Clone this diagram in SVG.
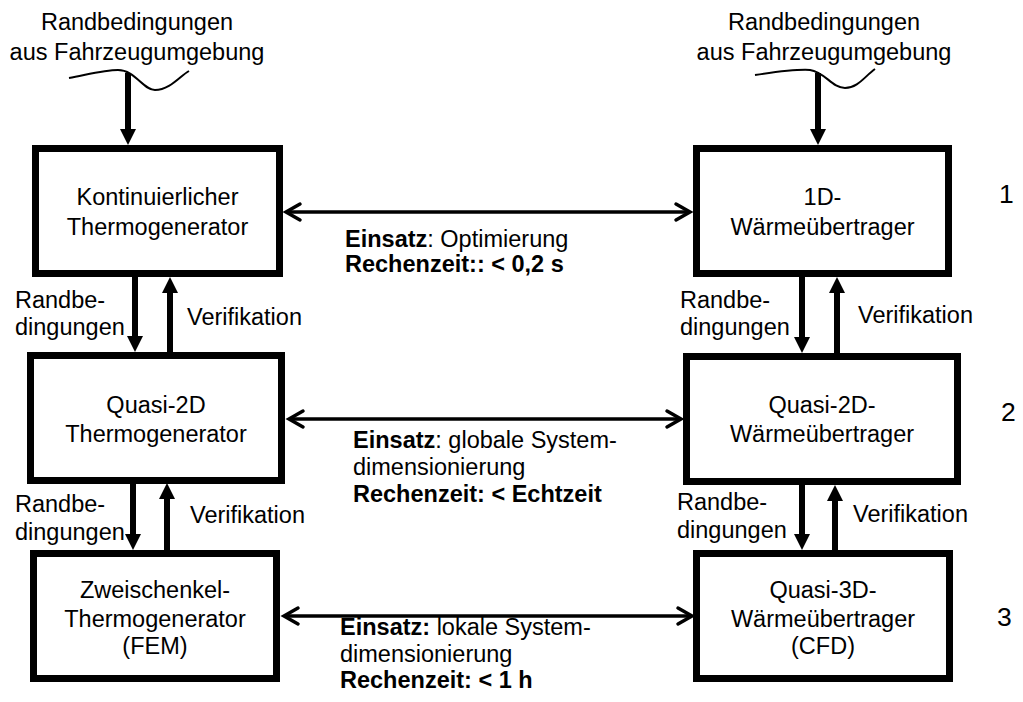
<svg xmlns="http://www.w3.org/2000/svg" width="1023" height="702" viewBox="0 0 1023 702">
  <style>
    text { font-family: "Liberation Sans", Arial, sans-serif; font-size: 23.5px; fill: #000; }
    .c { text-anchor: middle; }
    .b { font-weight: bold; }
    .n { font-size: 26.5px; }
    .box { fill: #fff; stroke: #000; stroke-width: 7; }
    .v { stroke: #000; stroke-width: 6; fill: none; }
    .h { stroke: #000; stroke-width: 3.5; fill: none; }
    .wave { stroke: #000; stroke-width: 2; fill: none; }
  </style>
  <defs>
    <marker id="fill" markerUnits="userSpaceOnUse" markerWidth="20" markerHeight="20" viewBox="0 -10 20 20" refX="0" refY="0" orient="auto" overflow="visible">
      <path d="M0,-8 L16,0 L0,8 Z" fill="#000"/>
    </marker>
    <marker id="open" markerUnits="userSpaceOnUse" markerWidth="20" markerHeight="20" viewBox="-18 -10 20 20" refX="0" refY="0" orient="auto-start-reverse" overflow="visible">
      <path d="M-14,-8 L0,0 L-14,8" fill="none" stroke="#000" stroke-width="3.5" stroke-linecap="round" stroke-linejoin="miter"/>
    </marker>
  </defs>

  <!-- top inputs -->
  <g id="input-left">
    <text class="c" x="137" y="30">Randbedingungen</text>
    <text class="c" x="137" y="60">aus Fahrzeugumgebung</text>
    <path class="wave" d="M69,78 C90,74 105,70 118,70 C135,70 143,90 155,90 C170,90 180,76 189,71"/>
  </g>
  <g id="input-right">
    <text class="c" x="824" y="30">Randbedingungen</text>
    <text class="c" x="824" y="60">aus Fahrzeugumgebung</text>
    <path class="wave" d="M755,75 C775,72 795,69 810,70 C825,72 832,88 845,88 C858,88 865,76 875,69"/>
  </g>

  <!-- nodes -->
  <g id="kont-teg">
    <rect class="box" x="35.5" y="148.5" width="244" height="125"/>
    <text class="c" x="157.5" y="205">Kontinuierlicher</text>
    <text class="c" x="157.5" y="235">Thermogenerator</text>
  </g>
  <g id="q2d-teg">
    <rect class="box" x="30.5" y="355.5" width="251" height="125"/>
    <text class="c" x="156" y="413">Quasi-2D</text>
    <text class="c" x="156" y="442">Thermogenerator</text>
  </g>
  <g id="zs-teg">
    <rect class="box" x="33.5" y="553.5" width="243" height="125"/>
    <text class="c" x="155" y="598">Zweischenkel-</text>
    <text class="c" x="155" y="627">Thermogenerator</text>
    <text class="c" x="155" y="654">(FEM)</text>
  </g>
  <g id="wue-1d">
    <rect class="box" x="696.5" y="148.5" width="252" height="125"/>
    <text class="c" x="822.5" y="205">1D-</text>
    <text class="c" x="822.5" y="235">Wärmeübertrager</text>
  </g>
  <g id="wue-q2d">
    <rect class="box" x="686.5" y="356.5" width="271" height="125"/>
    <text class="c" x="822" y="413">Quasi-2D-</text>
    <text class="c" x="822" y="442">Wärmeübertrager</text>
  </g>
  <g id="wue-q3d">
    <rect class="box" x="696.5" y="553.5" width="253" height="125"/>
    <text class="c" x="823" y="598">Quasi-3D-</text>
    <text class="c" x="823" y="627">Wärmeübertrager</text>
    <text class="c" x="823" y="654">(CFD)</text>
  </g>

  <!-- level numbers -->
  <g id="levels">
    <text class="n" x="999" y="203">1</text>
    <text class="n" x="1001" y="421">2</text>
    <text class="n" x="997" y="626">3</text>
  </g>

  <!-- connectors -->
  <g id="connectors">
    <line class="v" x1="128" y1="73" x2="128" y2="129" stroke-width="5" marker-end="url(#fill)"/>
    <line class="v" x1="818" y1="73" x2="818" y2="129" stroke-width="5" marker-end="url(#fill)"/>

    <line class="v" x1="135" y1="277" x2="135" y2="336" marker-end="url(#fill)"/>
    <line class="v" x1="170" y1="352" x2="170" y2="293" marker-end="url(#fill)"/>
    <line class="v" x1="133" y1="483" x2="133" y2="534" marker-end="url(#fill)"/>
    <line class="v" x1="167" y1="550" x2="167" y2="499" marker-end="url(#fill)"/>

    <line class="v" x1="802" y1="277" x2="802" y2="337" marker-end="url(#fill)"/>
    <line class="v" x1="837" y1="353" x2="837" y2="293" marker-end="url(#fill)"/>
    <line class="v" x1="802" y1="485" x2="802" y2="534" marker-end="url(#fill)"/>
    <line class="v" x1="835" y1="550" x2="835" y2="501" marker-end="url(#fill)"/>

    <line class="h" x1="286" y1="212" x2="690" y2="212" marker-start="url(#open)" marker-end="url(#open)"/>
    <line class="h" x1="289" y1="419" x2="681" y2="419" marker-start="url(#open)" marker-end="url(#open)"/>
    <line class="h" x1="284" y1="616" x2="692" y2="616" marker-start="url(#open)" marker-end="url(#open)"/>
  </g>

  <!-- connector labels -->
  <g id="labels">
    <text x="15" y="308">Randbe-</text>
    <text x="15" y="335">dingungen</text>
    <text x="187" y="325">Verifikation</text>
    <text x="15" y="512">Randbe-</text>
    <text x="15" y="540">dingungen</text>
    <text x="190" y="523">Verifikation</text>

    <text x="680" y="308">Randbe-</text>
    <text x="680" y="335">dingungen</text>
    <text x="858" y="323">Verifikation</text>
    <text x="677" y="510">Randbe-</text>
    <text x="677" y="538">dingungen</text>
    <text x="853" y="522">Verifikation</text>

    <text x="345" y="247"><tspan class="b">Einsatz</tspan>: Optimierung</text>
    <text x="345" y="272" class="b">Rechenzeit:: &lt; 0,2 s</text>

    <text x="353" y="448"><tspan class="b">Einsatz</tspan>: globale System-</text>
    <text x="353" y="475">dimensionierung</text>
    <text x="353" y="502" class="b">Rechenzeit: &lt; Echtzeit</text>

    <text x="340" y="635"><tspan class="b">Einsatz:</tspan> lokale System-</text>
    <text x="340" y="662">dimensionierung</text>
    <text x="340" y="688" class="b">Rechenzeit: &lt; 1 h</text>
  </g>
</svg>
